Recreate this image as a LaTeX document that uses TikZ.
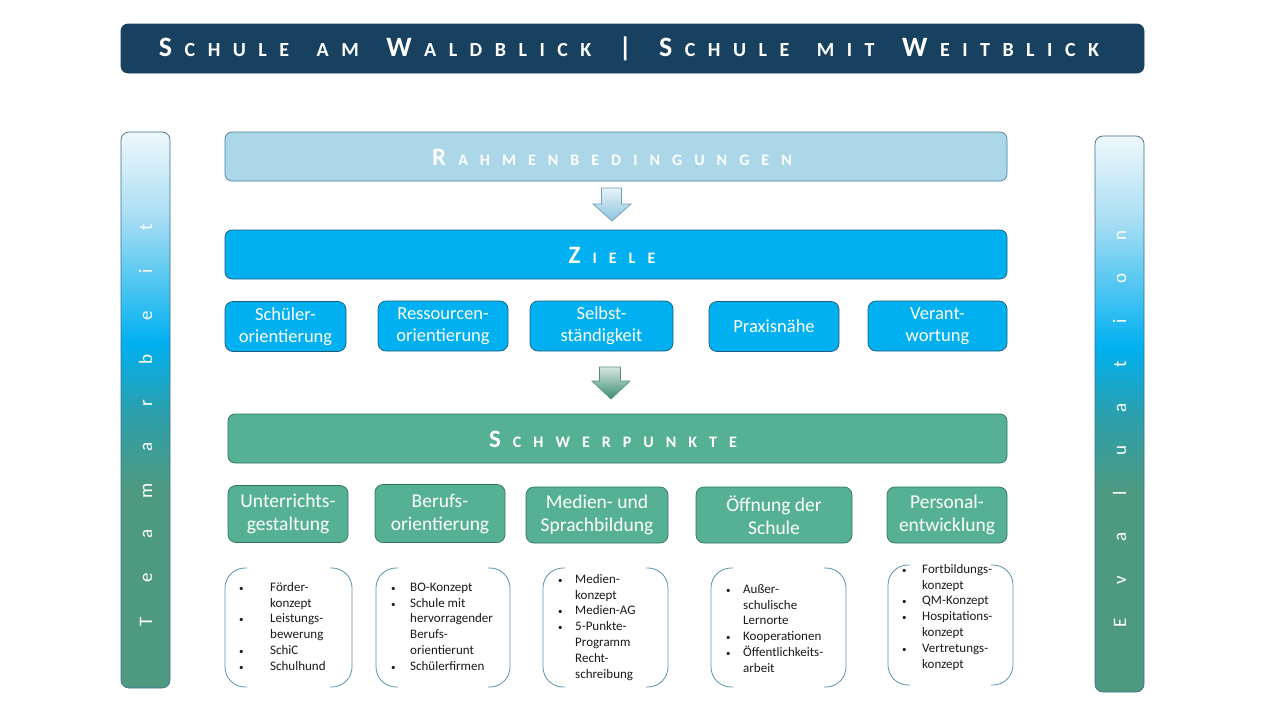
\documentclass[tikz,border=0pt]{standalone}
\usepackage{fontspec}
\setmainfont{Carlito}
\usepackage{array}
\definecolor{navy}{HTML}{17415F}
\definecolor{rfill}{HTML}{ABD7E8}
\definecolor{rborder}{HTML}{4C809C}
\definecolor{zfill}{HTML}{00B0F0}
\definecolor{zborder}{HTML}{1E5C7C}
\definecolor{sfill}{HTML}{56B194}
\definecolor{sborder}{HTML}{2F7262}
\definecolor{brkc}{HTML}{5B93B0}
\definecolor{stopc}{HTML}{EFF8FC}
\definecolor{slight}{HTML}{A9DEF3}
\definecolor{scyan}{HTML}{00B0F0}
\definecolor{steal}{HTML}{2BA0AE}
\definecolor{sgreen}{HTML}{4D9A80}
\definecolor{sideb}{HTML}{3C6E8C}
\definecolor{aAtop}{HTML}{E8F3F9}
\definecolor{aAbot}{HTML}{8CC4DD}
\definecolor{aAbd}{HTML}{6A9DBB}
\definecolor{aBtop}{HTML}{D6E8E2}
\definecolor{aBbot}{HTML}{3C8C6E}
\definecolor{aBbd}{HTML}{5A8E80}
\definecolor{listc}{HTML}{1A1A1A}
\pgfdeclareverticalshading{sidebar}{100bp}{color(0bp)=(sgreen); color(25bp)=(sgreen); color(43bp)=(sgreen); color(50bp)=(steal); color(56bp)=(scyan); color(67.5bp)=(slight); color(75bp)=(stopc); color(100bp)=(stopc)}
\makeatletter
\newcommand\spaced[2]{\def\sp@k{#1}\@tfor\sp@c:=#2\do{\sp@c\kern\sp@k}}
\makeatother
\newlength\tk \setlength\tk{12.5pt}
\newcommand\tb[1]{{\fontsize{28}{28}\selectfont #1}\kern\tk}
\newcommand\ts[1]{{\fontsize{20}{20}\selectfont\spaced{\tk}{#1}}}
\newcommand\tg{\hspace{15pt}}
\newcommand\lb[2]{{\fontsize{25}{25}\selectfont #1}\kern12pt{\fontsize{16}{16}\selectfont\spaced{12pt}{#2}}\unkern}
\newcommand\bul{{\fontsize{9}{9}\selectfont\textbullet}}
\newcommand\brk[4]{%
  \draw[brk] (#1+22,#2) -- (#1,#2) -- (#1,#4) -- (#1+22,#4);
  \draw[brk] (#3-22,#2) -- (#3,#2) -- (#3,#4) -- (#3-22,#4);}
\tikzset{
  bar/.style={rounded corners=7pt, minimum height=49pt, inner sep=0pt, text=white, line width=0.7pt, font=\bfseries},
  zbox/.style={draw=zborder, fill=zfill, rounded corners=8pt, align=center, text=white, font=\fontsize{18.5}{22}\selectfont, inner sep=0pt, line width=0.7pt},
  sbox/.style={draw=sborder, fill=sfill, rounded corners=8pt, align=center, text=white, font=\fontsize{19.5}{23}\selectfont, inner sep=0pt, line width=0.7pt},
  sidebarbox/.style={draw=sideb, shading=sidebar, rounded corners=8pt, minimum width=49pt, minimum height=556pt, inner sep=0pt, line width=0.7pt},
  sidelet/.style={rotate=90, anchor=base, text=white, inner sep=0pt, font=\fontsize{19}{19}\selectfont},
  brk/.style={rounded corners=20pt, draw=brkc, line width=0.8pt},
  listnode/.style={anchor=north west, inner sep=0pt, text=listc, font=\fontsize{13}{15.8}\selectfont},
  arrA/.style={top color=aAtop, bottom color=aAbot, draw=aAbd, line width=0.7pt},
  arrB/.style={top color=aBtop, bottom color=aBbot, draw=aBbd, line width=0.7pt}
}
\begin{document}
\begin{tikzpicture}[x=1pt,y=-1pt]
\useasboundingbox (0,0) rectangle (1280,720);
\fill[white] (0,0) rectangle (1280,720);
% title
\node[bar, fill=navy, draw=navy, minimum width=1023pt] (title) at (632.5,48.5) {};
\node[text=white, font=\bfseries, inner sep=0pt] (titletxt) at (629,49) {\tb{S}\ts{CHULE}\tg\ts{AM}\tg\tb{W}\ts{ALDBLICK}\tg{\fontsize{27}{27}\selectfont |}\kern\tk\tg\tb{S}\ts{CHULE}\tg\ts{MIT}\tg\tb{W}\ts{EITBLICK}\unkern};
% side bars
\node[sidebarbox, shade] (team) at (145.5,410) {};
\node[sidebarbox, shade] (eval) at (1119.5,414) {};
\foreach \c [count=\i from 0] in {T,e,a,m,a,r,b,e,i,t} {
  \node[sidelet] (tl\i) at (152, 622-43.8*\i) {\c};
}
\foreach \c [count=\i from 0] in {E,v,a,l,u,a,t,i,o,n} {
  \node[sidelet] (el\i) at (1126, 623-43.1*\i) {\c};
}
% main bars
\node[bar, fill=rfill, draw=rborder, minimum width=782pt] (rahmen) at (616,156.5) {};
\node[text=white, font=\bfseries, inner sep=0pt] (rahmentxt) at (612,157) {\lb{R}{AHMENBEDINGUNGEN}};
\node[bar, fill=zfill, draw=zborder, minimum width=782pt] (ziele) at (616,254.5) {};
\node[text=white, font=\bfseries, inner sep=0pt] (zieletxt) at (612,255) {\lb{Z}{IELE}};
\node[bar, fill=sfill, draw=sborder, minimum width=779pt] (schwer) at (617.5,438.5) {};
\node[text=white, font=\bfseries, inner sep=0pt] (schwertxt) at (613,439) {\lb{S}{CHWERPUNKTE}};
% arrows
\draw[arrA] (601.5,188) -- (621.5,188) -- (621.5,204) -- (631,204) -- (612,221) -- (593,204) -- (601.5,204) -- cycle;
\draw[arrB] (599.5,367) -- (620.5,367) -- (620.5,381) -- (630,381) -- (611,399) -- (592,381) -- (599.5,381) -- cycle;
% ziele boxes
\node[zbox, minimum width=121pt, minimum height=50pt] (z1) at (285.5,326.5) {Schüler-\\orientierung};
\node[zbox, minimum width=130pt, minimum height=50pt] (z2) at (443,326) {Ressourcen-\\orientierung};
\node[zbox, minimum width=143pt, minimum height=50pt] (z3) at (601.5,326) {Selbst-\\ständigkeit};
\node[zbox, minimum width=130pt, minimum height=50pt] (z4) at (774,326.5) {Praxisnähe};
\node[zbox, minimum width=139pt, minimum height=50pt] (z5) at (937.5,326) {Verant-\\wortung};
% schwerpunkte boxes
\node[sbox, minimum width=120pt, minimum height=57pt] (s1) at (288,514) {Unterrichts-\\gestaltung};
\node[sbox, minimum width=130pt, minimum height=58pt] (s2) at (440,513.5) {Berufs-\\orientierung};
\node[sbox, minimum width=142pt, minimum height=56pt] (s3) at (597,515) {Medien- und\\Sprachbildung};
\node[sbox, minimum width=156pt, minimum height=56pt] (s4) at (774,515) {Öffnung der\\Schule};
\node[sbox, minimum width=120pt, minimum height=56pt] (s5) at (947,515) {Personal-\\entwicklung};
% brackets
\brk{225}{568}{352}{687}
\brk{376}{568}{510}{687}
\brk{543}{568}{668}{687}
\brk{711}{568}{846}{687}
\brk{888}{565}{1013}{685}
% lists
\node[listnode] (l1) at (239,580) {\begin{tabular}{@{}p{31pt}@{}l@{}}\bul & Förder-\\ & konzept\\ \bul & Leistungs-\\ & bewerung\\ \bul & SchiC\\ \bul & Schulhund\end{tabular}};
\node[listnode] (l2) at (391,580) {\begin{tabular}{@{}p{19pt}@{}l@{}}\bul & BO-Konzept\\ \bul & Schule mit\\ & hervorragender\\ & Berufs-\\ & orientierunt\\ \bul & Schülerfirmen\end{tabular}};
\node[listnode] (l3) at (558,572) {\begin{tabular}{@{}p{17pt}@{}l@{}}\bul & Medien-\\ & konzept\\ \bul & Medien-AG\\ \bul & 5-Punkte-\\ & Programm\\ & Recht-\\ & schreibung\end{tabular}};
\node[listnode] (l4) at (726,582) {\begin{tabular}{@{}p{17pt}@{}l@{}}\bul & Außer-\\ & schulische\\ & Lernorte\\ \bul & Kooperationen\\ \bul & Öffentlichkeits-\\ & arbeit\end{tabular}};
\node[listnode] (l5) at (902,562) {\begin{tabular}{@{}p{20pt}@{}l@{}}\bul & Fortbildungs-\\ & konzept\\ \bul & QM-Konzept\\ \bul & Hospitations-\\ & konzept\\ \bul & Vertretungs-\\ & konzept\end{tabular}};
\end{tikzpicture}
\end{document}
